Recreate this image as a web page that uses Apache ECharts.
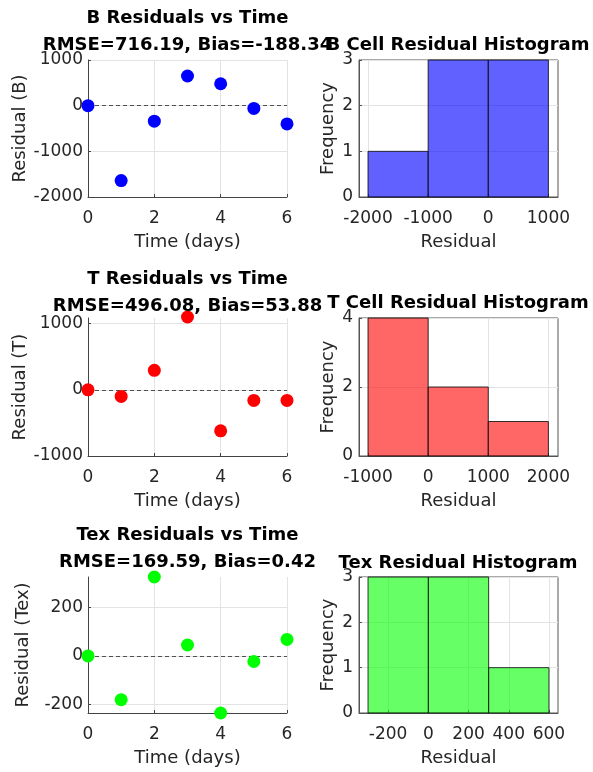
<!DOCTYPE html>
<html>
<head>
<meta charset="utf-8">
<script src="https://cdn.jsdelivr.net/npm/echarts@6/dist/echarts.min.js"></script>
<style>
html,body{margin:0;padding:0;background:#fff;}
#chart{width:593px;height:772px;}
</style>
</head>
<body>
<div id="chart"></div>
<script>
// ---- data ----
const days = [0, 1, 2, 3, 4, 5, 6];
const bResiduals = [0, -1640, -340, 650, 480, -60, -400];
const tResiduals = [0, -100, 295, 1100, -620, -160, -160];
const texResiduals = [0, -180, 325, 45, -235, -23, 68];

const bEdges = [-2000, -1000, 0, 1000];
const bCounts = [1, 3, 3];
const tEdges = [-1000, 0, 1000, 2000];
const tCounts = [4, 2, 1];
const texEdges = [-300, 0, 300, 600];
const texCounts = [3, 3, 1];

const scatterTitles = [
  'B Residuals vs Time\nRMSE=716.19, Bias=-188.34',
  'T Residuals vs Time\nRMSE=496.08, Bias=53.88',
  'Tex Residuals vs Time\nRMSE=169.59, Bias=0.42'
];
const histTitles = ['B Cell Residual Histogram', 'T Cell Residual Histogram', 'Tex Residual Histogram'];
const yNames = ['Residual (B)', 'Residual (T)', 'Residual (Tex)'];

const bYTicks = [-2000, -1000, 0, 1000];
const tYTicks = [-1000, 0, 1000];
const texYTicks = [-200, 0, 200];
const bHistXTicks = [-2000, -1000, 0, 1000];
const tHistXTicks = [-1000, 0, 1000, 2000];
const texHistXTicks = [-200, 0, 200, 400, 600];
const bHistYTicks = [0, 1, 2, 3];
const tHistYTicks = [0, 2, 4];
const texHistYTicks = [0, 1, 2, 3];

// ---- layout / style ----
const FONT = 'DejaVu Sans';
const TXT = '#262626';
const rows = [
  {top: 60, height: 137, t1: 4.5, t2: 31.5},
  {top: 318, height: 138, t1: 265.5, t2: 290},
  {top: 577, height: 136, t1: 521.5, t2: 549.5}
];
const scatterColors = ['#0000ff', '#ff0000', '#00ff00'];
const histFills = ['rgba(0,0,255,0.62)', 'rgba(255,0,0,0.6)', 'rgba(0,255,0,0.6)'];
const scatterY = [
  {min: -2000, max: 1000, ticks: bYTicks},
  {min: -1000, max: 1085, ticks: tYTicks},
  {min: -235, max: 325, ticks: texYTicks}
];
const histX = [
  {min: -2150, max: 1160, ticks: bHistXTicks},
  {min: -1150, max: 2160, ticks: tHistXTicks},
  {min: -345, max: 645, ticks: texHistXTicks}
];
const histY = [
  {max: 3, ticks: bHistYTicks},
  {max: 4, ticks: tHistYTicks},
  {max: 3, ticks: texHistYTicks}
];
const residSets = [bResiduals, tResiduals, texResiduals];
const edgeSets = [bEdges, tEdges, texEdges];
const countSets = [bCounts, tCounts, texCounts];

const grids = [], xAxes = [], yAxes = [], series = [], titles = [];
const plain = v => String(v);
const labelStyle = {color: TXT, fontFamily: FONT, fontSize: 17, formatter: plain};
const nameStyle = {color: TXT, fontFamily: FONT, fontSize: 18};
const gridLine = {show: true, lineStyle: {color: '#e3e3e3', width: 1}};

rows.forEach((r, i) => {
  grids.push({left: 88, width: 199, top: r.top, height: r.height});
  grids.push({left: 359, width: 199, top: r.top, height: r.height, show: true,
    borderColor: '#555', borderWidth: 1, backgroundColor: 'transparent'});
  const gS = 2 * i, gH = 2 * i + 1;

  xAxes.push({gridIndex: gS, type: 'value', min: 0, max: 6, interval: 2,
    name: 'Time (days)', nameLocation: 'middle', nameGap: 36, nameTextStyle: nameStyle,
    axisLine: {show: true, onZero: false, lineStyle: {color: '#444'}},
    axisTick: {show: true, inside: true, length: 3, lineStyle: {color: '#444'}},
    axisLabel: Object.assign({margin: 13}, labelStyle),
    splitLine: gridLine});
  yAxes.push({gridIndex: gS, type: 'value', min: scatterY[i].min, max: scatterY[i].max,
    name: yNames[i], nameLocation: 'middle', nameGap: 56, nameTextStyle: nameStyle,
    axisLine: {show: true, onZero: false, lineStyle: {color: '#444'}},
    axisTick: {show: true, inside: true, length: 3, customValues: scatterY[i].ticks, lineStyle: {color: '#444'}},
    axisLabel: Object.assign({margin: 5, customValues: scatterY[i].ticks}, labelStyle),
    splitLine: Object.assign({customValues: scatterY[i].ticks}, gridLine)});

  xAxes.push({gridIndex: gH, type: 'value', min: histX[i].min, max: histX[i].max,
    name: 'Residual', nameLocation: 'middle', nameGap: 36, nameTextStyle: nameStyle,
    axisLine: {show: true, onZero: false, lineStyle: {color: '#555'}},
    axisTick: {show: true, inside: true, length: 3, customValues: histX[i].ticks, lineStyle: {color: '#555'}},
    axisLabel: Object.assign({margin: 13, customValues: histX[i].ticks}, labelStyle),
    splitLine: Object.assign({customValues: histX[i].ticks}, gridLine)});
  yAxes.push({gridIndex: gH, type: 'value', min: 0, max: histY[i].max,
    name: 'Frequency', nameLocation: 'middle', nameGap: 22, nameTextStyle: nameStyle,
    axisLine: {show: true, onZero: false, lineStyle: {color: '#555'}},
    axisTick: {show: true, inside: true, length: 3, customValues: histY[i].ticks, lineStyle: {color: '#555'}},
    axisLabel: Object.assign({margin: 6, customValues: histY[i].ticks}, labelStyle),
    splitLine: Object.assign({customValues: histY[i].ticks}, gridLine)});

  series.push({type: 'scatter', xAxisIndex: gS, yAxisIndex: gS, clip: false,
    symbol: 'circle', symbolSize: 13, z: 5,
    itemStyle: {color: scatterColors[i], opacity: 1},
    data: days.map((d, k) => [d, residSets[i][k]]),
    markLine: {silent: true, symbol: 'none', label: {show: false},
      lineStyle: {color: '#505050', type: [4, 3], width: 1},
      emphasis: {disabled: true},
      data: [{yAxis: 0}]}});

  const edges = edgeSets[i], counts = countSets[i];
  series.push({type: 'custom', xAxisIndex: gH, yAxisIndex: gH, z: 3,
    data: counts.map((c, k) => [edges[k], edges[k + 1], c]),
    encode: {x: [0, 1], y: 2},
    renderItem: (params, api) => {
      const p0 = api.coord([api.value(0), 0]);
      const p1 = api.coord([api.value(1), api.value(2)]);
      return {type: 'rect',
        shape: {x: p0[0], y: p1[1], width: p1[0] - p0[0], height: p0[1] - p1[1]},
        style: {fill: histFills[i], stroke: 'rgba(20,20,20,0.85)', lineWidth: 1}};
    }});

  titles.push({text: scatterTitles[i], left: 187.5, top: r.t1, textAlign: 'center', padding: 0,
    textStyle: {fontFamily: FONT, fontWeight: 'bold', fontSize: 18, color: '#000', lineHeight: 27}});
  titles.push({text: histTitles[i], left: 458, top: r.t2, textAlign: 'center', padding: 0,
    textStyle: {fontFamily: FONT, fontWeight: 'bold', fontSize: 18, color: '#000', lineHeight: 27}});
});

const chart = echarts.init(document.getElementById('chart'), null, {renderer: 'canvas'});
chart.setOption({
  animation: false,
  backgroundColor: '#fff',
  title: titles,
  grid: grids,
  xAxis: xAxes,
  yAxis: yAxes,
  series: series
});
</script>
</body>
</html>
